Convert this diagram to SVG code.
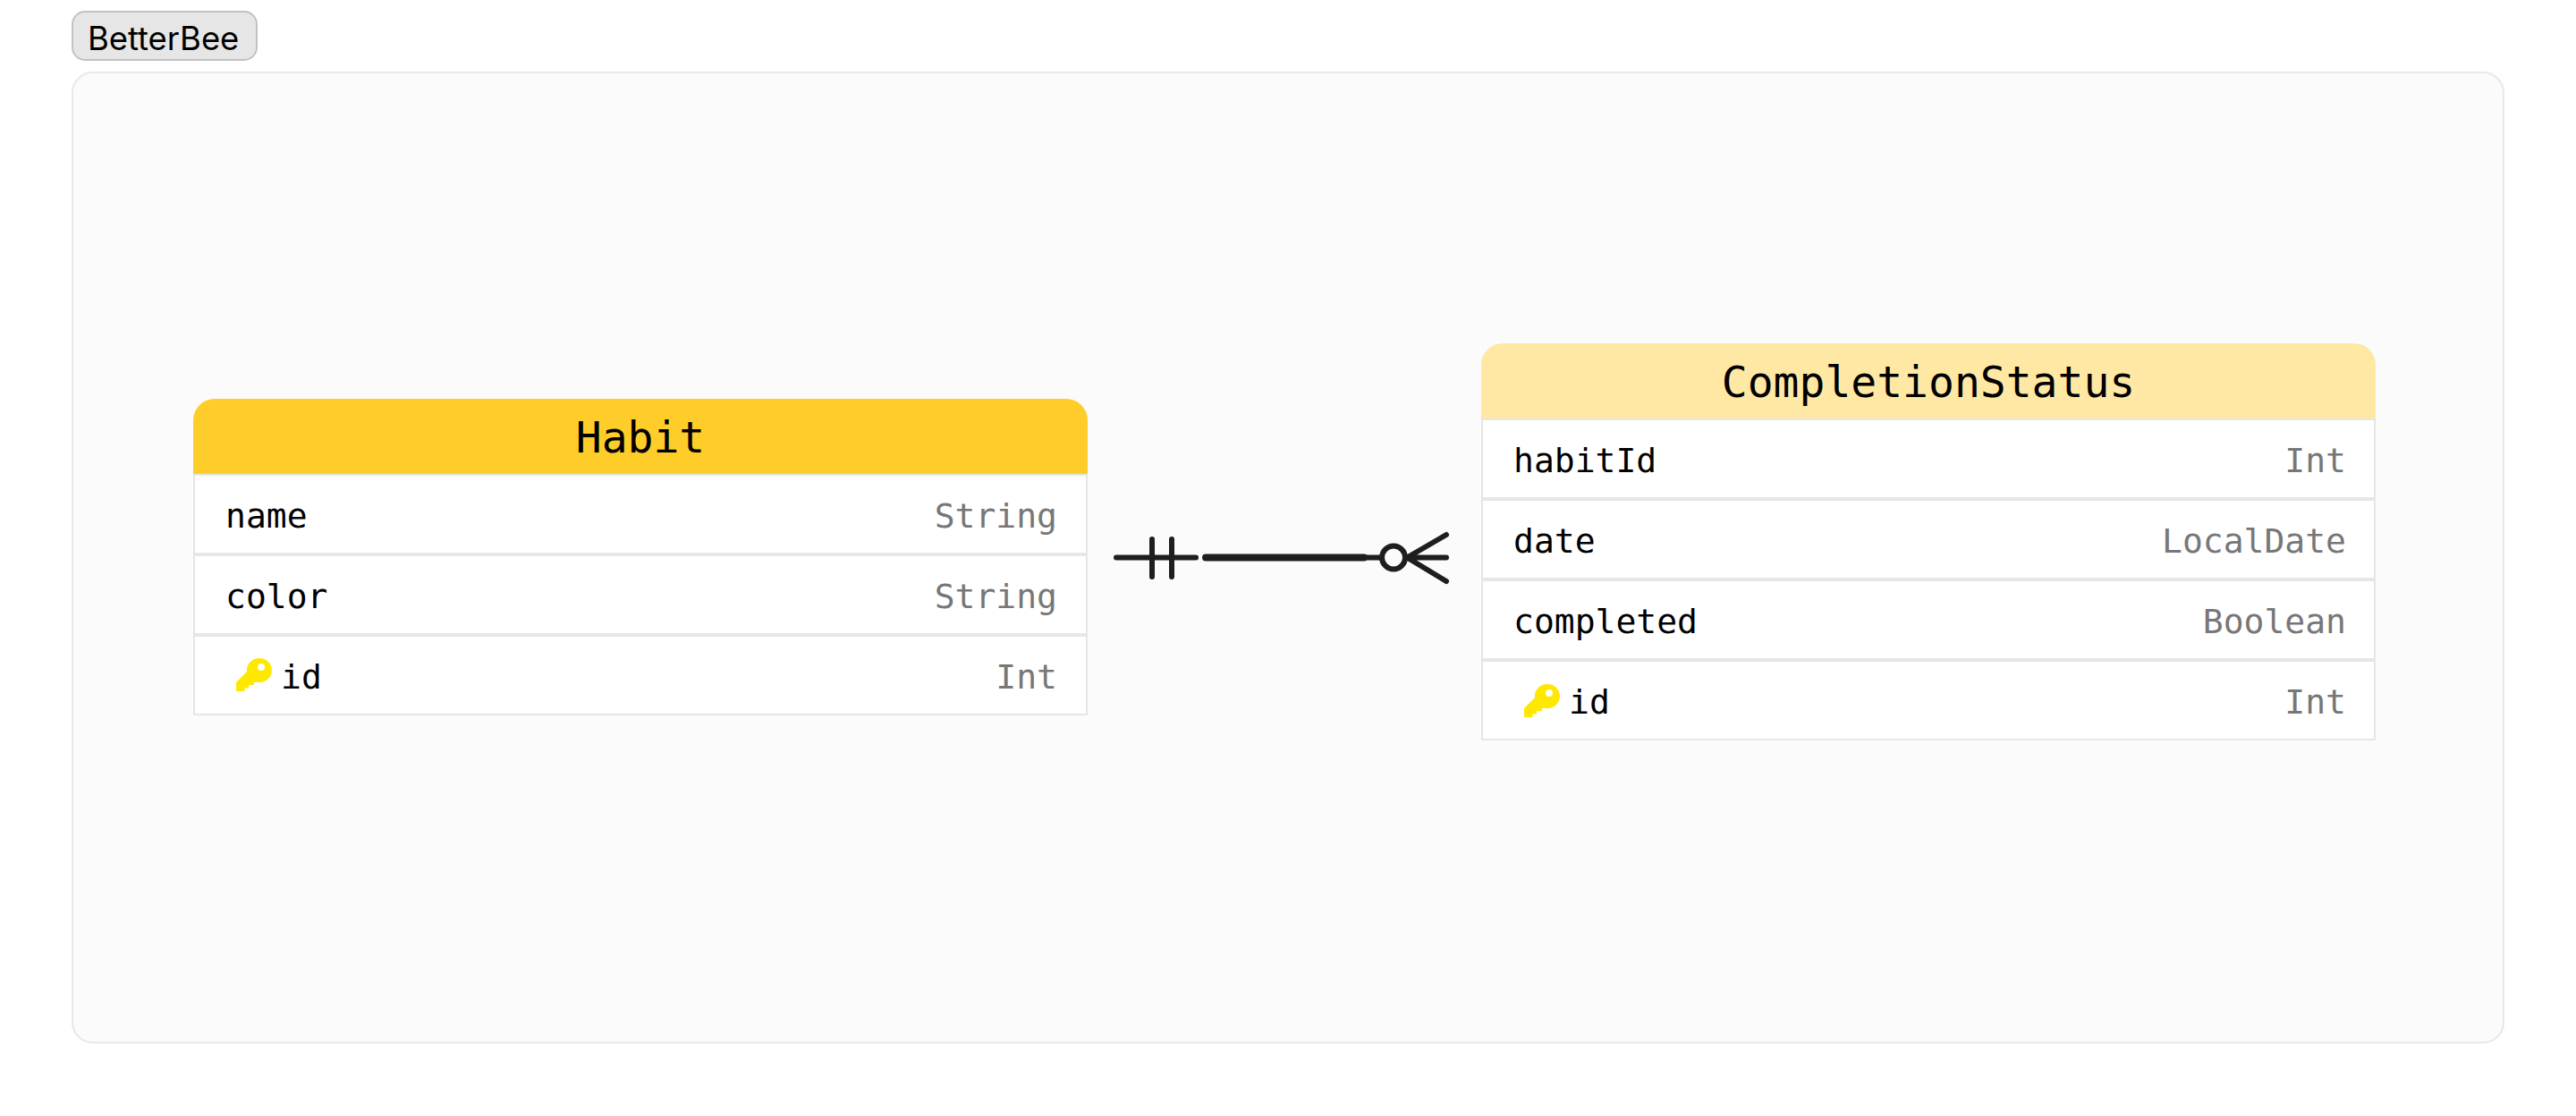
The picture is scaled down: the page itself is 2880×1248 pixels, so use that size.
<svg xmlns="http://www.w3.org/2000/svg" width="2880" height="1248" viewBox="0 0 2880 1248">
<style>
.row{fill:#fff;stroke:#e6e6e6;stroke-width:2}
.t{font-family:"DejaVu Sans Mono","Liberation Mono",monospace;font-size:38px}
.n{fill:#000}
.y{fill:#777;text-anchor:end}
.h{font-family:"DejaVu Sans Mono","Liberation Mono",monospace;font-size:48px;fill:#000;text-anchor:middle}
.c{fill:none;stroke:#1e1e1e;stroke-width:6;stroke-linecap:round}
</style>
<defs>
<path id="key" fill="#ffe800" fill-rule="evenodd" d="M264 773V763L276 751A14 13.5 0 1 1 289 763H284V766H278V769.5H273.5V773ZM292 742A4 4 0 1 0 292.01 750A4 4 0 1 0 292 742Z"/>
</defs>
<rect width="2880" height="1248" fill="#fff"/>
<g id="group-betterbee">
<rect x="81" y="81" width="2718" height="1085" rx="23" fill="#fbfbfb" stroke="#e8e8e8" stroke-width="2"/>
<rect x="81" y="13" width="206" height="54" rx="14" fill="#e6e6e6" stroke="#c2c2c2" stroke-width="2"/>
<text x="98" y="56" font-family="Inter,'Liberation Sans',sans-serif" font-size="36.4" fill="#000">BetterBee</text>
</g>
<g id="connectors">
<path class="c" d="M1248 623.5H1337M1288 603V645M1310 603V645"/>
<path class="c" style="stroke-width:8" d="M1348 623.5H1525"/>
<path class="c" d="M1526 623.5H1544M1573 623.5H1617M1574 623L1617 598M1574 624L1617 650"/>
<circle cx="1558" cy="623.5" r="13" fill="#fbfbfb" stroke="#1e1e1e" stroke-width="6"/>
</g>
<g id="node-habit">
<path d="M216 530V470A24 24 0 0 1 240 446H1192A24 24 0 0 1 1216 470V530Z" fill="#ffcd29"/>
<rect class="row" x="217" y="531" width="998" height="88"/>
<rect class="row" x="217" y="621" width="998" height="88"/>
<rect class="row" x="217" y="711" width="998" height="88"/>
<text class="h" x="716" y="506">Habit</text>
<text class="t n" x="252" y="590">name</text><text class="t y" x="1182" y="590">String</text>
<text class="t n" x="252" y="680">color</text><text class="t y" x="1182" y="680">String</text>
<use href="#key"/>
<text class="t n" x="314" y="770">id</text><text class="t y" x="1182" y="770">Int</text>
</g>
<g id="node-completionstatus">
<path d="M1656 468V408A24 24 0 0 1 1680 384H2632A24 24 0 0 1 2656 408V468Z" fill="#ffe8a3"/>
<rect class="row" x="1657" y="469" width="998" height="88"/>
<rect class="row" x="1657" y="559" width="998" height="88"/>
<rect class="row" x="1657" y="649" width="998" height="88"/>
<rect class="row" x="1657" y="739" width="998" height="88"/>
<text class="h" x="2156" y="444">CompletionStatus</text>
<text class="t n" x="1692" y="528">habitId</text><text class="t y" x="2623" y="528">Int</text>
<text class="t n" x="1692" y="618">date</text><text class="t y" x="2623" y="618">LocalDate</text>
<text class="t n" x="1692" y="708">completed</text><text class="t y" x="2623" y="708">Boolean</text>
<use href="#key" x="1440" y="29"/>
<text class="t n" x="1754" y="798">id</text><text class="t y" x="2623" y="798">Int</text>
</g>
</svg>
